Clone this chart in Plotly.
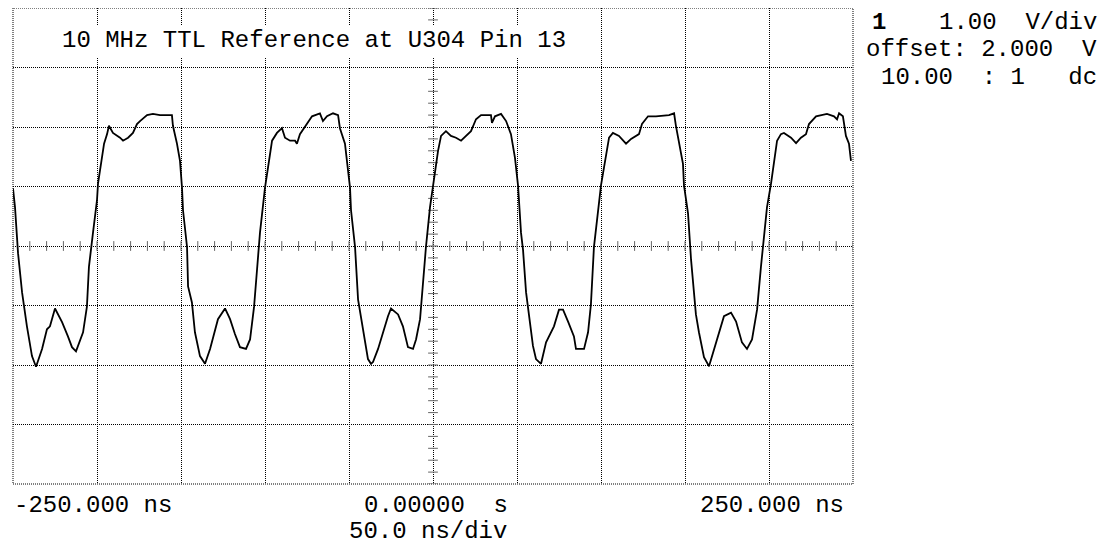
import plotly.graph_objects as go

# ---- data (time in ns, voltage in V) ----
cycle1_t = [-250.0, -248.8, -247.0, -244.6, -241.7, -238.7, -236.3, -232.7, -229.8, -228.0, -225.0,
            -220.8, -217.3, -214.9, -212.5, -210.1, -208.3, -206.0, -204.8, -202.4, -200.0, -199.4,
            -197.0, -195.8, -194.0, -192.9, -190.5, -186.3, -184.5, -181.5, -178.6, -176.2, -174.4,
            -170.2, -166.7, -162.5, -155.4, -154.8, -152.4, -150.6]
cycle1_v = [2.97, 2.65, 1.88, 1.22, 0.65, 0.15, -0.03, 0.27, 0.60, 0.65, 0.95,
            0.72, 0.48, 0.30, 0.23, 0.43, 0.55, 0.98, 1.65, 2.22, 2.77, 3.05,
            3.48, 3.72, 3.88, 4.02, 3.90, 3.82, 3.77, 3.82, 3.90, 4.05, 4.10,
            4.20, 4.22, 4.20, 4.20, 4.02, 3.72, 3.43]

cycle2_t = [-149.4, -148.8, -146.4, -145.8, -143.5, -141.7, -138.7, -135.7, -132.7, -129.8, -128.0,
            -123.8, -120.8, -117.9, -114.9, -111.3, -108.9, -106.5, -104.8, -103.0, -100.0, -98.2,
            -95.8, -92.9, -89.9, -88.1, -85.1, -82.1, -81.0, -79.2, -75.0, -72.0, -67.3, -65.5,
            -63.1, -59.5, -56.5, -55.4, -52.4, -51.2]
cycle2_v = [2.98, 2.60, 1.98, 1.32, 1.05, 0.55, 0.15, 0.02, 0.27, 0.60, 0.77,
            0.95, 0.77, 0.52, 0.30, 0.27, 0.43, 0.98, 1.65, 2.22, 2.98, 3.32,
            3.77, 3.90, 3.98, 3.82, 3.77, 3.77, 3.72, 3.88, 4.05, 4.18, 4.23, 4.10,
            4.18, 4.23, 4.20, 3.98, 3.72, 3.38]

cycle3_t = [-49.4, -48.8, -46.4, -44.6, -42.9, -40.5, -38.7, -36.9, -35.7, -32.7, -29.8,
            -26.8, -25.0, -20.8, -17.9, -14.9, -11.9, -10.1, -7.7, -6.0, -4.2, -1.8,
            0.0, 1.2, 3.0, 4.8, 7.7, 10.7, 13.7, 16.7, 19.6, 22.6, 25.6, 28.6,
            34.5, 35.1, 36.9, 40.5, 43.5, 46.4, 48.8]
cycle3_v = [2.98, 2.60, 1.98, 1.10, 0.82, 0.38, 0.10, 0.02, 0.05, 0.27, 0.55,
            0.82, 0.95, 0.85, 0.65, 0.30, 0.27, 0.43, 0.77, 1.38, 1.98, 2.65,
            3.02, 3.27, 3.60, 3.85, 3.93, 3.85, 3.82, 3.77, 3.85, 3.93, 4.13, 4.20,
            4.20, 4.07, 4.18, 4.22, 4.10, 3.88, 3.48]

cycle4_t = [50.6, 52.4, 53.6, 55.4, 57.1, 59.5, 61.3, 64.3, 67.3, 69.0, 72.0,
            75.0, 77.4, 80.4, 83.9, 85.1, 89.9, 92.3, 94.0, 95.8, 98.2, 100.0,
            101.8, 104.8, 107.1, 110.7, 114.9, 117.9, 122.6, 124.4, 128.0, 132.7,
            140.5, 143.5, 144.6, 146.4, 148.8]
cycle4_v = [3.02, 2.22, 1.93, 1.22, 0.82, 0.32, 0.10, 0.02, 0.38, 0.48, 0.65,
            0.93, 0.93, 0.73, 0.48, 0.27, 0.27, 0.55, 1.02, 1.98, 2.60, 3.02,
            3.32, 3.82, 3.90, 3.85, 3.72, 3.80, 3.88, 4.05, 4.18, 4.18,
            4.20, 4.23, 4.02, 3.77, 3.38]

cycle5_t = [149.4, 151.8, 153.6, 156.5, 158.3, 161.3, 164.3, 167.3, 170.2, 173.2, 177.4,
            180.4, 183.9, 186.9, 189.9, 192.9, 195.2, 197.0, 198.8, 201.2, 203.0, 204.8,
            207.1, 208.9, 213.1, 216.1, 219.0, 222.0, 223.8, 228.0, 234.5, 238.7, 240.5,
            241.7, 244.0, 245.8, 247.6, 248.8]
cycle5_v = [3.02, 2.55, 1.77, 0.85, 0.55, 0.13, -0.02, 0.27, 0.55, 0.82, 0.88,
            0.73, 0.38, 0.27, 0.43, 0.93, 1.65, 2.10, 2.65, 3.05, 3.38, 3.77,
            3.88, 3.90, 3.82, 3.73, 3.82, 3.88, 4.05, 4.18, 4.22, 4.18, 4.13,
            4.23, 4.18, 3.85, 3.72, 3.43]

time_ns = cycle1_t + cycle2_t + cycle3_t + cycle4_t + cycle5_t
volts = cycle1_v + cycle2_v + cycle3_v + cycle4_v + cycle5_v

# scope settings
t_range = [-250, 250]
t_div = 50
v_div = 1.0
v_offset = 2.0
v_range = [v_offset - 4 * v_div, v_offset + 4 * v_div]

title_text = "10 MHz TTL Reference at U304 Pin 13"
left_label = "-250.000 ns"
center_label = "0.00000  s"
right_label = "250.000 ns"
timebase_label = "50.0 ns/div"
ch_num = "1"
ch_rows = ["1.00  V/div", "offset: 2.000  V", "10.00  : 1   dc"]

# ---- layout geometry ----
# the page body has an 8px default margin, so the figure is placed at (8, 8)
PAGE_OFF = 8
W, H = 1109 - PAGE_OFF, 546 - PAGE_OFF
PLOT_L, PLOT_T, PW, PH = 13, 8, 840, 476          # plot box in page pixels
ML = PLOT_L - PAGE_OFF
MT = PLOT_T - PAGE_OFF
MR = W - ML - PW
MB = H - MT - PH


def px_x(x):
    return (x - PLOT_L) / PW


def px_y(y):
    return (PLOT_T + PH - y) / PH


FONT = "Liberation Mono"
FS = 24
DOT = "1px,1px"

fig = go.Figure()

# minor ticks on the centre axes
tick_t = [t_range[0] + i * t_div / 5 for i in range(51)]
tick_v = [v_range[0] + i * v_div / 5 for i in range(41)]
fig.add_trace(go.Scatter(x=tick_t, y=[v_offset] * len(tick_t), mode="markers",
                         marker=dict(symbol="line-ns", size=7, line=dict(width=1, color="#666")),
                         hoverinfo="skip", showlegend=False))
fig.add_trace(go.Scatter(x=[0] * len(tick_v), y=tick_v, mode="markers",
                         marker=dict(symbol="line-ew", size=7, line=dict(width=1, color="#666")),
                         hoverinfo="skip", showlegend=False))

fig.add_trace(go.Scatter(x=time_ns, y=volts, mode="lines",
                         line=dict(color="black", width=1.8),
                         hoverinfo="skip", showlegend=False))

axis_common = dict(showgrid=True, gridcolor="black", gridwidth=1, griddash=DOT,
                   zeroline=False, showline=False, showticklabels=False, ticks="")
fig.update_xaxes(range=t_range, dtick=t_div, tick0=0, **axis_common)
fig.update_yaxes(range=v_range, dtick=v_div, tick0=0, **axis_common)

# dotted frame of the graticule
fig.add_shape(type="rect", xref="paper", yref="paper", x0=0, x1=1, y0=0, y1=1,
              line=dict(color="black", width=1, dash=DOT), fillcolor="rgba(0,0,0,0)",
              layer="below")

# white box behind the title
fig.add_shape(type="rect", xref="paper", yref="paper",
              x0=px_x(15), x1=px_x(590), y0=px_y(58), y1=px_y(25),
              fillcolor="white", line=dict(width=0), layer="above")

ann = []
ann.append(dict(text=title_text, x=px_x(60), y=px_y(41), xanchor="left"))
ann.append(dict(text=left_label, x=px_x(12), y=px_y(505), xanchor="left"))
ann.append(dict(text=center_label, x=px_x(362), y=px_y(505), xanchor="left"))
ann.append(dict(text=right_label, x=px_x(846), y=px_y(505), xanchor="right"))
ann.append(dict(text=timebase_label, x=px_x(347), y=px_y(531), xanchor="left"))
ann.append(dict(text="<b>" + ch_num + "</b>", x=px_x(870), y=px_y(22), xanchor="left",
                font=dict(family=FONT, size=FS, color="black")))
ann.append(dict(text=ch_rows[0], x=px_x(1099), y=px_y(22), xanchor="right"))
ann.append(dict(text=ch_rows[1], x=px_x(1099), y=px_y(49), xanchor="right"))
ann.append(dict(text=ch_rows[2], x=px_x(1099), y=px_y(77), xanchor="right"))

for a in ann:
    a.setdefault("font", dict(family=FONT, size=FS, color="black"))
    fig.add_annotation(xref="paper", yref="paper", yanchor="middle", showarrow=False, **a)

fig.update_layout(width=W, height=H, margin=dict(l=ML, r=MR, t=MT, b=MB, pad=0),
                  paper_bgcolor="white", plot_bgcolor="white",
                  hovermode=False, showlegend=False)

fig.write_html("out.html", config={"displayModeBar": False})
